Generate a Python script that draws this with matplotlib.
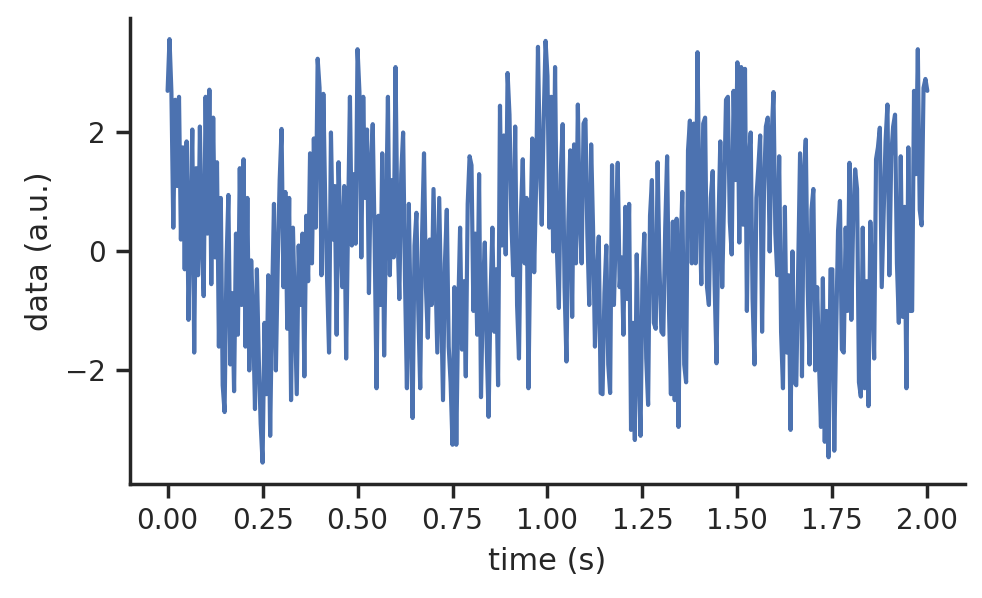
import numpy as np
import matplotlib
matplotlib.use("Agg")
import matplotlib.pyplot as plt
import seaborn as sns

# signal values, 0.005 s apart from 0 to 2 s
data = [
    # 0.00 - 0.245
    2.70, 3.57, 2.68, 0.40, 2.55, 1.10, 2.60, 0.20, 1.75, -0.30,
    1.85, -1.15, 0.55, 2.05, -1.70, 1.40, -0.40, 2.10, 0.15, -0.75,
    2.60, 0.30, 2.72, -0.55, 2.25, -0.10, 1.50, -1.60, 0.90, -2.25,
    -2.70, -0.20, 0.95, -1.90, -0.70, -2.35, 0.30, -1.40, 1.40, -0.90,
    1.55, -1.60, 0.90, -2.00, -0.15, -1.10, -2.65, -0.30, -1.80, -2.90,
    # 0.25 - 0.495
    -3.55, -1.20, -2.40, -0.40, -3.10, -0.85, 0.80, -2.00, -0.20, 1.20,
    2.06, -0.60, 1.00, -1.30, 0.90, -2.50, 0.40, -1.00, -2.40, 0.10,
    -0.90, 0.30, -2.10, 0.60, -0.50, 1.65, -0.20, 1.90, 0.40, 3.24,
    2.75, -0.40, 2.65, 0.80, -0.50, -1.70, 2.00, 0.20, 1.10, -1.40,
    1.50, 0.30, -0.60, 1.10, -1.80, 0.50, 2.60, 0.10, 1.30, 0.13,
    # 0.50 - 0.745
    3.40, 2.68, -0.10, 2.60, 0.90, 2.05, -0.70, 1.40, 2.14, 0.20,
    -2.30, 0.60, -0.90, 1.65, -1.75, 0.50, 2.60, -0.40, 1.20, -0.10,
    3.10, 0.40, -0.80, 1.30, 2.00, -0.50, -2.30, 0.80, -1.20, -2.80,
    0.10, 0.65, -1.00, -2.30, 0.30, 1.65, -0.60, -1.45, 0.20, -0.90,
    1.05, -0.30, -1.70, 0.90, -0.80, -2.50, -0.20, 0.70, -1.60, -2.20,
    # 0.75 - 0.995
    -3.25, -0.60, -3.25, -1.00, 0.40, -1.65, -0.50, -2.10, 0.80, 1.60,
    1.45, -1.00, 0.30, -1.40, 1.30, -2.45, -0.70, 0.15, -1.60, -2.78,
    -0.80, 0.40, -1.35, -0.30, -2.25, 2.45, 0.10, 1.95, -0.05, 3.00,
    2.30, 0.50, -0.40, 2.10, -0.90, -1.80, 0.60, 1.55, -0.20, 0.90,
    -2.30, 0.20, 1.90, -0.35, 1.10, 3.44, 1.50, 0.45, 2.20, 3.54,
    # 1.00 - 1.245
    2.95, 0.40, 2.60, 0.00, 3.10, 0.00, -0.95, 1.30, 2.14, -0.60,
    -1.85, 0.50, 1.70, -1.10, 1.80, -0.20, 2.47, 0.60, -0.20, 2.15,
    2.22, 0.30, -0.90, 1.80, 0.40, -1.60, -0.50, 0.25, -2.38, -2.40,
    -0.70, 0.10, -1.90, -2.38, 1.45, -0.90, 0.40, 1.49, -0.60, -0.10,
    -1.40, 0.75, -0.80, 0.80, -3.00, -1.20, -3.17, -0.05, -1.90, -3.10,
    # 1.25 - 1.495
    -0.45, 0.30, -1.80, -2.58, 0.60, 1.20, -1.20, -1.30, 1.50, -0.30,
    -1.35, -1.40, 0.40, 1.60, -1.00, -2.40, 0.50, -2.50, 0.55, -2.95,
    -0.10, 1.00, -1.90, -2.20, 1.70, 2.20, -0.20, 2.15, -0.20, 3.35,
    0.80, -0.55, 2.15, 2.25, -0.60, -0.90, 0.90, 1.35, -0.55, -1.88,
    0.40, 1.85, -0.60, 0.90, 2.55, 2.60, 0.50, -0.05, 2.70, 1.20,
    # 1.50 - 1.745
    3.18, 0.15, 3.10, 0.45, 3.07, -1.00, 1.50, 2.00, -0.80, -1.90,
    0.90, 1.40, 1.95, -1.35, 1.00, 2.10, 2.25, 0.00, 1.90, 2.68,
    0.30, -0.40, 1.60, -1.35, -2.30, 0.75, -1.70, -0.40, -3.00, 0.00,
    -2.20, -2.25, -0.30, 1.65, -2.10, 1.30, 1.88, -0.60, -1.90, 0.70,
    1.05, -2.00, -0.60, -1.90, -2.95, -0.45, -3.20, -1.00, -3.46, -0.30,
    # 1.75 - 2.00
    -0.30, -3.35, -1.35, 0.35, 0.85, -1.65, -1.70, 0.40, -1.00, 1.49,
    -1.15, 0.60, 1.38, 1.05, -2.20, -2.44, 0.40, -2.30, -0.50, -2.60,
    0.50, -0.55, -1.80, 1.55, 1.75, 2.08, -0.60, 0.65, 1.85, 2.47,
    -0.40, 1.60, 2.10, 2.30, -0.20, -1.20, 1.60, -1.10, 0.75, -2.30,
    1.75, -1.00, -1.00, 2.70, 1.30, 3.40, 0.70, 0.44, 2.75, 2.90, 2.70,
]
time = np.linspace(0, 2, len(data))

sns.set_theme(context="notebook", style="ticks")
plt.rcParams["xtick.labelsize"] = 10
plt.rcParams["ytick.labelsize"] = 10
plt.rcParams["axes.labelsize"] = 11
plt.rcParams["xtick.major.size"] = 5
plt.rcParams["ytick.major.size"] = 5

fig, ax = plt.subplots(figsize=(4.91, 2.99), dpi=200)
fig.subplots_adjust(left=0.132, right=0.983, top=0.97, bottom=0.191)

ax.plot(time, data, color=sns.color_palette("deep")[0], lw=1.5)
ax.set_xlabel("time (s)")
ax.set_ylabel("data (a.u.)")
ax.set_yticks([-2, 0, 2])
ax.set_xticks(np.arange(0, 2.01, 0.25))
sns.despine()

fig.savefig("out.png")
